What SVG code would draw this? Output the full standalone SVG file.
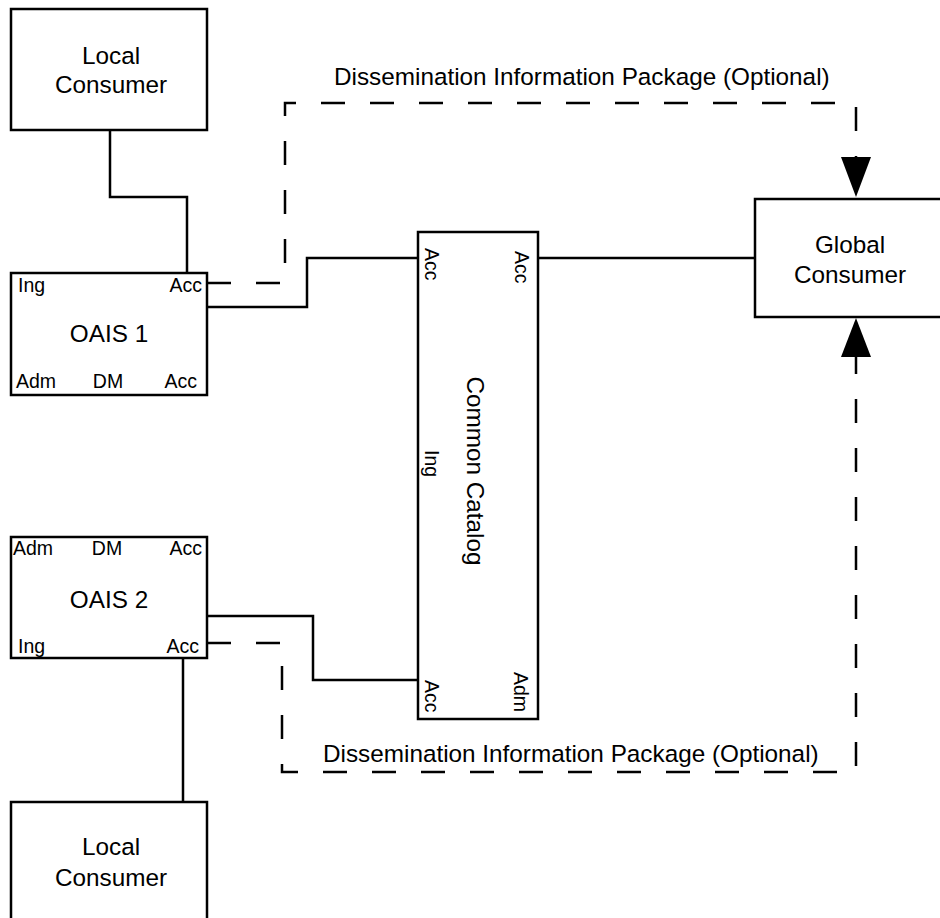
<svg xmlns="http://www.w3.org/2000/svg" width="940" height="918" viewBox="0 0 940 918">
<style>
.box{fill:#fff;stroke:#000;stroke-width:2.5}
.ln{fill:none;stroke:#000;stroke-width:2.5}
.dash{fill:none;stroke:#000;stroke-width:2.5;stroke-dasharray:24 25}
.big{font-family:"Liberation Sans",Arial,sans-serif;font-size:24.3px;fill:#000}
.sm{font-family:"Liberation Sans",Arial,sans-serif;font-size:19.5px;fill:#000}
.mid{text-anchor:middle}
.end{text-anchor:end}
</style>
<rect width="940" height="918" fill="#fff"/>
<g id="connectors">
<path class="ln" d="M110,130 V197 H187 V273"/>
<path class="ln" d="M207,307 H307 V258 H418"/>
<path class="ln" d="M538,258 H755"/>
<path class="ln" d="M207,616 H313 V680 H418"/>
<path class="ln" d="M183,658 V802"/>
<path class="dash" d="M207,283 H285 V103 H856 V157"/>
<path class="dash" d="M207,643 H282 V772 H856 V357"/>
<polygon points="841,157 871,157 856,197" fill="#000"/>
<polygon points="841,357 871,357 856,318" fill="#000"/>
<text class="big" x="334" y="85">Dissemination Information Package (Optional)</text>
<text class="big" x="323" y="762">Dissemination Information Package (Optional)</text>
</g>
<g id="local-consumer-1">
<rect class="box" x="11" y="9" width="196" height="121"/>
<text class="big mid" x="111" y="64">Local</text>
<text class="big mid" x="111" y="93">Consumer</text>
</g>
<g id="oais-1">
<rect class="box" x="11" y="273" width="196" height="122"/>
<text class="sm" x="18" y="292">Ing</text>
<text class="sm end" x="202" y="292">Acc</text>
<text class="big mid" x="109" y="342">OAIS 1</text>
<text class="sm" x="16" y="388">Adm</text>
<text class="sm mid" x="108" y="388">DM</text>
<text class="sm end" x="197" y="388">Acc</text>
</g>
<g id="oais-2">
<rect class="box" x="11" y="537" width="196" height="121"/>
<text class="sm" x="13" y="555">Adm</text>
<text class="sm mid" x="107" y="555">DM</text>
<text class="sm end" x="202" y="555">Acc</text>
<text class="big mid" x="109" y="608">OAIS 2</text>
<text class="sm" x="18" y="653">Ing</text>
<text class="sm end" x="199" y="653">Acc</text>
</g>
<g id="local-consumer-2">
<rect class="box" x="11" y="802" width="196" height="130"/>
<text class="big mid" x="111" y="855">Local</text>
<text class="big mid" x="111" y="886">Consumer</text>
</g>
<g id="common-catalog">
<rect class="box" x="418" y="232" width="120" height="487"/>
<text class="big mid" transform="translate(467,471) rotate(90)">Common Catalog</text>
<text class="sm" transform="translate(425,248) rotate(90)">Acc</text>
<text class="sm" transform="translate(515,251) rotate(90)">Acc</text>
<text class="sm" transform="translate(425,450) rotate(90)">Ing</text>
<text class="sm" transform="translate(425,680) rotate(90)">Acc</text>
<text class="sm" transform="translate(514,672) rotate(90)">Adm</text>
</g>
<g id="global-consumer">
<rect class="box" x="755" y="199" width="200" height="118"/>
<text class="big mid" x="850" y="253">Global</text>
<text class="big mid" x="850" y="283">Consumer</text>
</g>
</svg>
